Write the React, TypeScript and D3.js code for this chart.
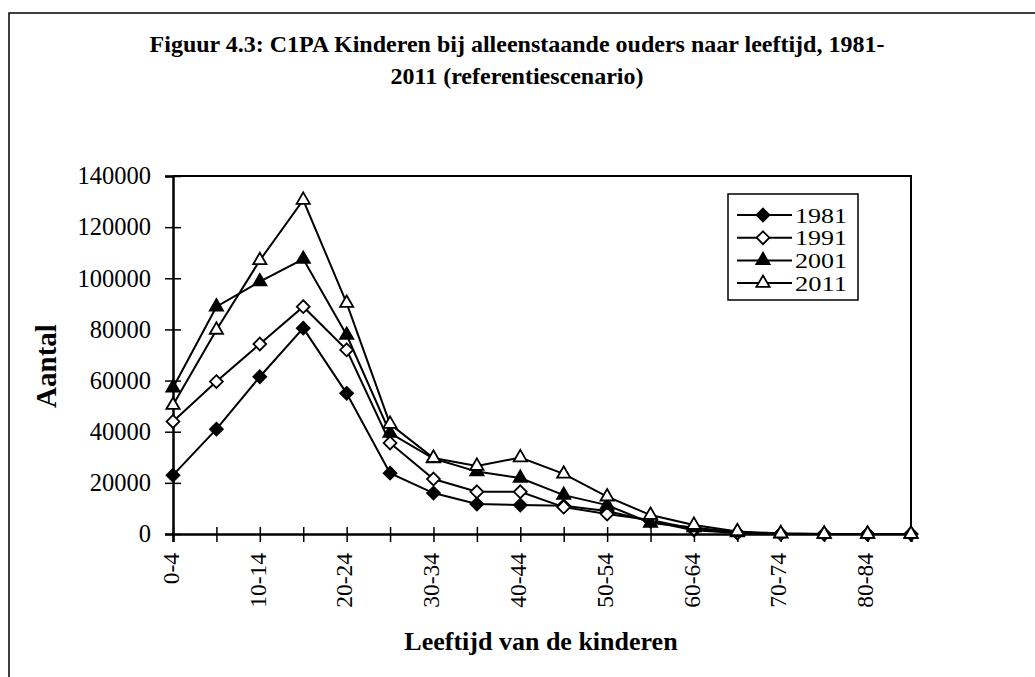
import React, { useEffect, useRef } from "react";
import * as d3 from "d3";

// age groups of the children
const categories = [
  "0-4", "5-9", "10-14", "15-19", "20-24", "25-29", "30-34", "35-39", "40-44",
  "45-49", "50-54", "55-59", "60-64", "65-69", "70-74", "75-79", "80-84", "85+",
];
const shownLabels = ["0-4", "10-14", "20-24", "30-34", "40-44", "50-54", "60-64", "70-74", "80-84"];

const s1981 = [23000, 41000, 61500, 80500, 55000, 23800, 16000, 11700, 11300, 11000, 9000, 5000, 1500, 400, 100, 0, 0, 0];
const s1991 = [44000, 59600, 74300, 88900, 72000, 35600, 21500, 16500, 16500, 10500, 7800, 5500, 2000, 500, 100, 0, 0, 0];
const s2001 = [57200, 88900, 98700, 107500, 77800, 39500, 29500, 24400, 21900, 15200, 11300, 4300, 2500, 600, 100, 0, 0, 0];
const s2011 = [50400, 79800, 107000, 130600, 90300, 43000, 29700, 26600, 29900, 23500, 14600, 7400, 3500, 1000, 200, 0, 0, 0];

const yTicks = [0, 20000, 40000, 60000, 80000, 100000, 120000, 140000];

const seriesNames = ["1981", "1991", "2001", "2011"];
const seriesValues = [s1981, s1991, s2001, s2011];
const seriesMarkers = ["diamondFilled", "diamondOpen", "triangleFilled", "triangleOpen"];

const font = "'Liberation Serif', 'Times New Roman', serif";

const Chart = () => {
  const ref = useRef<SVGSVGElement>(null);

  useEffect(() => {
    const svg = d3.select(ref.current);
    svg.selectAll("*").remove();

    const left = 173, right = 911, top = 176, bottom = 534;

    const x = d3.scalePoint<string>().domain(categories).range([left, right]);
    const y = d3.scaleLinear().domain([0, 140000]).range([bottom, top]);

    // outer frame of the figure
    svg.append("path")
      .attr("d", "M9,677 L9,13 L1035,13")
      .attr("fill", "none").attr("stroke", "#000").attr("stroke-width", 1.5);

    // title
    const title = svg.append("text")
      .attr("text-anchor", "middle")
      .attr("font-family", font).attr("font-weight", "bold").attr("font-size", 24);
    title.append("tspan").attr("x", 517).attr("y", 52)
      .text("Figuur 4.3: C1PA Kinderen bij alleenstaande ouders naar leeftijd, 1981-");
    title.append("tspan").attr("x", 517).attr("y", 84)
      .text("2011 (referentiescenario)");

    // plot frame (top + right)
    svg.append("path")
      .attr("d", `M${left},${top} L${right},${top} L${right},${bottom}`)
      .attr("fill", "none").attr("stroke", "#000").attr("stroke-width", 2);

    // y axis
    const yAxis = d3.axisLeft(y).tickValues(yTicks).tickSize(8).tickFormat(d => String(d));
    const gy = svg.append("g").attr("transform", `translate(${left},0)`).call(yAxis);
    gy.select(".domain").attr("stroke-width", 2.5);
    gy.selectAll(".tick line").attr("x2", 8).attr("x1", -8).attr("stroke-width", 1.5);
    gy.selectAll(".tick text")
      .attr("x", -22)
      .attr("font-family", font).attr("font-size", 24.5).attr("fill", "#000");

    // x axis
    const xAxis = d3.axisBottom(x).tickSize(8).tickFormat(d => (shownLabels.includes(d) ? d : ""));
    const gx = svg.append("g").attr("transform", `translate(0,${bottom})`).call(xAxis);
    gx.select(".domain").attr("stroke-width", 2.5);
    gx.selectAll(".tick line").attr("y1", -7).attr("y2", 8).attr("stroke-width", 1.5);
    gx.selectAll(".tick text")
      .attr("transform", "rotate(-90)")
      .attr("x", -19).attr("y", -3).attr("dy", "0.35em")
      .style("text-anchor", "end")
      .attr("font-family", font).attr("font-size", 23.5).attr("fill", "#000");

    // axis titles
    svg.append("text")
      .attr("transform", "translate(56,366) rotate(-90)")
      .attr("text-anchor", "middle")
      .attr("font-family", font).attr("font-weight", "bold").attr("font-size", 29)
      .text("Aantal");
    svg.append("text")
      .attr("x", 541).attr("y", 650)
      .attr("text-anchor", "middle")
      .attr("font-family", font).attr("font-weight", "bold").attr("font-size", 26)
      .text("Leeftijd van de kinderen");

    const drawMarker = (g, kind, cx, cy) => {
      if (kind.startsWith("diamond")) {
        g.append("path")
          .attr("d", d3.symbol(d3.symbolDiamond2, 105)())
          .attr("transform", `translate(${cx},${cy})`)
          .attr("fill", kind === "diamondFilled" ? "#000" : "#fff")
          .attr("stroke", "#000").attr("stroke-width", 1.8);
      } else {
        g.append("path")
          .attr("d", d3.symbol(d3.symbolTriangle2, 125)())
          .attr("transform", `translate(${cx},${cy})`)
          .attr("fill", kind === "triangleFilled" ? "#000" : "#fff")
          .attr("stroke", "#000").attr("stroke-width", 1.8);
      }
    };

    const line = d3.line<number>()
      .x((_, i) => x(categories[i]))
      .y(d => y(d));

    seriesValues.forEach((vals, si) => {
      const g = svg.append("g");
      g.append("path")
        .datum(vals)
        .attr("d", line)
        .attr("fill", "none").attr("stroke", "#000").attr("stroke-width", 2);
      vals.forEach((v, i) => drawMarker(g, seriesMarkers[si], x(categories[i]), y(v)));
    });

    // legend
    const lg = svg.append("g");
    lg.append("rect")
      .attr("x", 728).attr("y", 194).attr("width", 130).attr("height", 106)
      .attr("fill", "#fff").attr("stroke", "#000").attr("stroke-width", 1.5);
    seriesNames.forEach((name, i) => {
      const ly = 215 + i * 22.7;
      lg.append("line")
        .attr("x1", 737).attr("x2", 792).attr("y1", ly).attr("y2", ly)
        .attr("stroke", "#000").attr("stroke-width", 2);
      drawMarker(lg, seriesMarkers[i], 763, ly);
      lg.append("text")
        .attr("x", 795).attr("y", ly).attr("dy", "0.35em")
        .attr("font-family", font).attr("font-size", 22)
        .attr("textLength", 52).attr("lengthAdjust", "spacingAndGlyphs")
        .text(name);
    });
  }, []);

  return (
    <svg
      ref={ref}
      width={1035}
      height={677}
      style={{ position: "absolute", left: 0, top: 0, background: "#fff" }}
    ></svg>
  );
};

export default function App() {
  return <Chart />;
}
